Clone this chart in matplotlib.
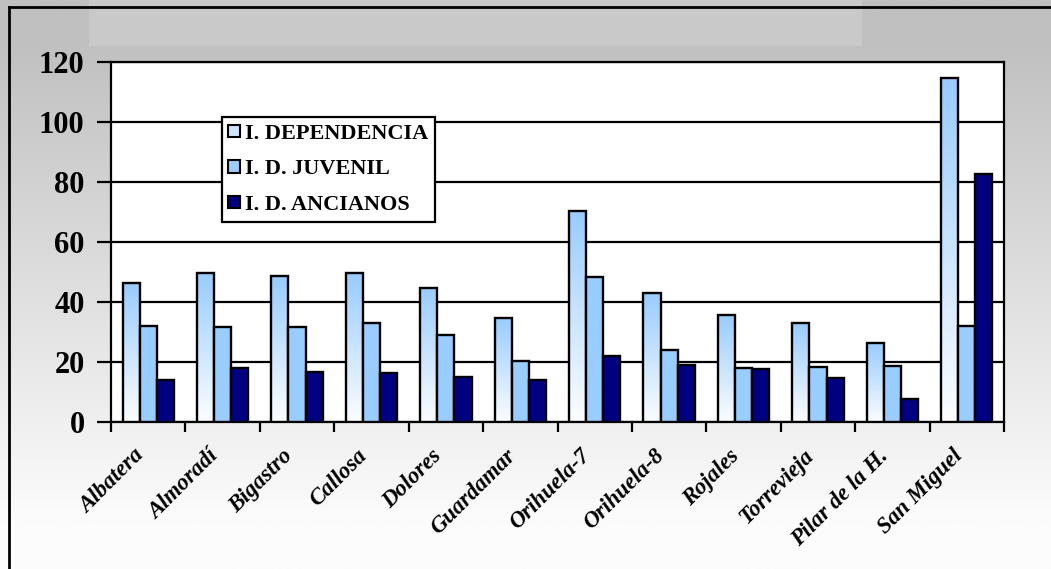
import numpy as np
import matplotlib
matplotlib.use("Agg")
from matplotlib import pyplot as plt
from matplotlib.colors import LinearSegmentedColormap
from matplotlib.patches import Patch
from matplotlib.lines import Line2D
from matplotlib.transforms import ScaledTranslation

plt.rcParams['font.family'] = ['Liberation Serif', 'DejaVu Serif']
plt.rcParams['font.weight'] = 'bold'

# datos
municipios = ["Albatera", "Almoradí", "Bigastro", "Callosa", "Dolores", "Guardamar",
              "Orihuela-7", "Orihuela-8", "Rojales", "Torrevieja", "Pilar de la H.", "San Miguel"]
dependencia = [46.2, 49.5, 48.5, 49.5, 44.5, 34.5, 70.2, 42.8, 35.5, 32.9, 26.1, 114.6]
juvenil = [32.0, 31.7, 31.7, 33.0, 29.0, 20.3, 48.2, 24.0, 17.8, 18.2, 18.7, 31.8]
ancianos = [13.9, 18.0, 16.6, 16.3, 15.0, 13.9, 22.0, 18.8, 17.6, 14.7, 7.6, 82.5]
series = ["I. DEPENDENCIA", "I. D. JUVENIL", "I. D. ANCIANOS"]

fig = plt.figure(figsize=(10.51, 5.69), dpi=100)

# fondo gris degradado
bg = fig.add_axes([0, 0, 1, 1], zorder=-10)
yy = np.linspace(0, 1, 300)
g = 192 + (252 - 192) * np.clip((yy - 0.07) / 0.85, 0, 1)
grad = np.repeat((g / 255.0)[:, None], 2, axis=1)
bg.imshow(np.dstack([grad, grad, grad]), aspect='auto', extent=(0, 1, 1, 0))
bg.set_xlim(0, 1)
bg.set_ylim(1, 0)
bg.axis('off')
# marca de agua (banda clara superior)
bg.add_patch(plt.Rectangle((0.085, 0.0), 0.735, 0.08, color='#c9c9c9', lw=0))
# marco exterior
fig.add_artist(Line2D([9 / 1051, 9 / 1051], [0, 1 - 7 / 569], color='black', lw=2))
fig.add_artist(Line2D([9 / 1051, 1], [1 - 7 / 569, 1 - 7 / 569], color='black', lw=2))

ax = fig.add_axes([111 / 1051, 147.3 / 569, 893 / 1051, 360 / 569])
ax.set_facecolor('white')

x = np.arange(len(municipios))
w = 0.23
lw = 1.7
b1 = ax.bar(x - w, dependencia, w, facecolor='none', edgecolor='black', linewidth=lw, zorder=3)
ax.bar(x, juvenil, w, color='#99ccff', edgecolor='black', linewidth=lw, zorder=3)
ax.bar(x + w, ancianos, w, color='#000080', edgecolor='black', linewidth=lw, zorder=3)

# degradado de la primera serie
cmap = LinearSegmentedColormap.from_list('dep', ['#fbfdff', '#99ccff'])
col = np.linspace(0, 1, 100)[:, None]
for r in b1:
    x0, h = r.get_x(), r.get_height()
    im = ax.imshow(col, cmap=cmap, origin='lower', aspect='auto',
                   extent=(x0, x0 + r.get_width(), 0, h), zorder=2.9)
    im.set_clip_path(r)

ax.set_xlim(-0.5, len(municipios) - 0.5)
ax.set_ylim(0, 120)
ax.set_yticks(range(0, 121, 20))
ax.yaxis.grid(True, color='black', linewidth=1.6)
ax.set_axisbelow(True)
for s in ax.spines.values():
    s.set_linewidth(1.6)
    s.set_color('black')

ax.tick_params(axis='y', length=10, width=1.6, labelsize=22, pad=9)
ax.set_xticks(x)
ax.set_xticks(np.arange(-0.5, len(municipios), 1), minor=True)
ax.tick_params(axis='x', which='major', length=0, pad=17)
ax.tick_params(axis='x', which='minor', length=7, width=1.6)
ax.set_xticklabels(municipios, rotation=45, ha='right', rotation_mode='anchor',
                   fontsize=16.5, fontstyle='italic', fontweight='bold')
shift = ScaledTranslation(-15 / 100, 0, fig.dpi_scale_trans)
for lab in ax.get_xticklabels():
    lab.set_transform(lab.get_transform() + shift)

handles = [Patch(facecolor='#cfe6ff', edgecolor='black', linewidth=1.5),
           Patch(facecolor='#99ccff', edgecolor='black', linewidth=1.5),
           Patch(facecolor='#000080', edgecolor='black', linewidth=1.5)]
leg = ax.legend(handles, series, loc='upper left', bbox_to_anchor=(0.124, 0.846),
                borderaxespad=0, fancybox=False, framealpha=1, edgecolor='black',
                prop={'size': 16, 'weight': 'bold'}, handlelength=0.5, handleheight=0.5,
                handletextpad=0.25, labelspacing=0.7, borderpad=0.3)
leg.get_frame().set_linewidth(1.6)
leg.set_zorder(5)

plt.savefig("out.png", dpi=100)
